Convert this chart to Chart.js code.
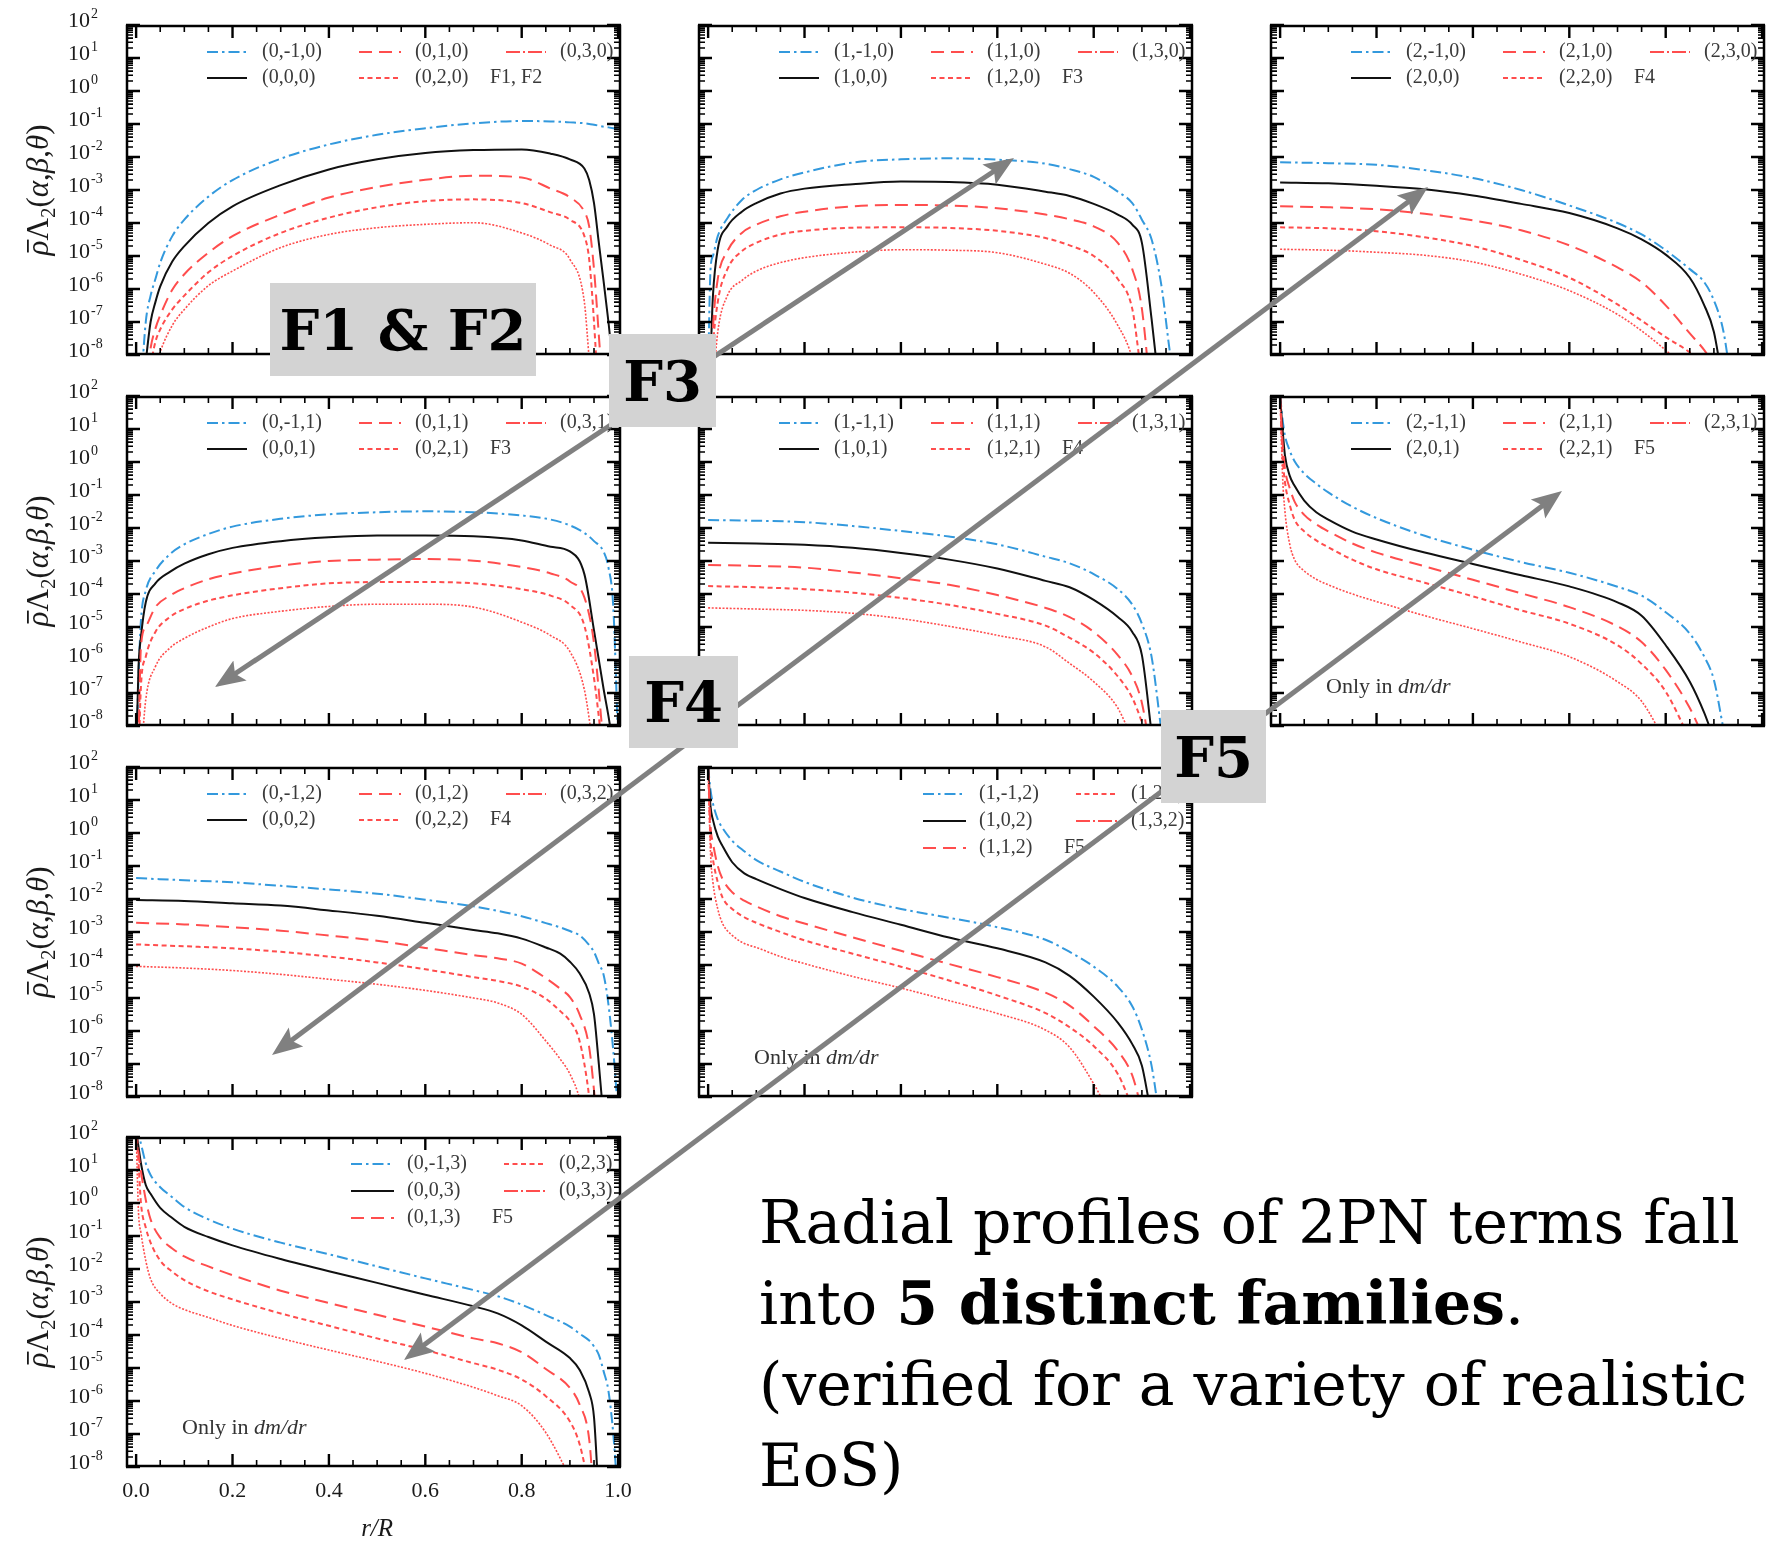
<!DOCTYPE html>
<html>
<head>
<meta charset="utf-8">
<title>Radial profiles of 2PN terms</title>
<script src="https://cdn.jsdelivr.net/npm/chart.js@4.4.1/dist/chart.umd.min.js"></script>
<style>
    html, body { margin: 0; padding: 0; background: #fff; }
    #page { position: relative; width: 1767px; height: 1541px; overflow: hidden; background: #fff; }
    #plots canvas { position: absolute; }
    #arrows { position: absolute; left: 0; top: 0; }
    .tag {
        position: absolute; background: #d3d3d3; color: #000;
        font: bold 56px "DejaVu Serif", Georgia, serif;
        display: flex; align-items: center; justify-content: center; white-space: nowrap;
    }
    #caption {
        position: absolute; left: 759px; top: 1182px;
        font: 60px "DejaVu Serif", Georgia, serif; line-height: 81px; color: #000; white-space: nowrap;
    }
</style>
</head>
<body>
<div id="page">
    <div id="plots"></div>
    <svg id="arrows" width="1767" height="1541" viewBox="0 0 1767 1541">
        <defs>
            <marker id="head" markerUnits="userSpaceOnUse" markerWidth="30" markerHeight="26"
                    refX="15" refY="13" orient="auto-start-reverse">
                <path d="M0,1 L30,13 L0,25 L6,13 z" fill="#808080"></path>
            </marker>
        </defs>
    </svg>
    <div class="tag" style="left:270px;top:283px;width:266px;height:93px;">F1 &amp; F2</div>
    <div class="tag" style="left:609px;top:334px;width:107px;height:93px;">F3</div>
    <div class="tag" style="left:629px;top:656px;width:109px;height:92px;">F4</div>
    <div class="tag" style="left:1161px;top:710px;width:105px;height:93px;">F5</div>
    <div id="caption">Radial profiles of 2PN terms fall<br>into <b>5 distinct families</b>.<br>(verified for a variety of realistic<br>EoS)</div>
</div>

<script>
// ---- data: r/R grids and rho*Lambda_2(alpha,beta,theta) ----
// panel (0,beta,0)  F1, F2
const r00 = [0.01, 0.02, 0.03, 0.04, 0.05, 0.075, 0.1, 0.15, 0.2, 0.3, 0.4, 0.5, 0.6, 0.7, 0.8, 0.86, 0.9, 0.93, 0.94, 0.95, 0.96, 0.97, 0.98, 0.99, 1.0];
const y00_m1 = [1e-9, 1e-7, 6.3e-7, 2e-6, 6.3e-6, 4e-5, 1.26e-4, 6.3e-4, 2e-3, 8.9e-3, 2.4e-2, 4.7e-2, 7.4e-2, 0.105, 0.123, 0.12, 0.112, 0.105, 0.1, 0.095, 0.089, 0.083, 0.079, 0.074, 0.068];
const y00_0 = [3e-10, 6.3e-9, 1e-7, 4e-7, 1.2e-6, 6.8e-6, 2e-5, 1e-4, 3.2e-4, 1.4e-3, 4.2e-3, 8.5e-3, 1.32e-2, 1.62e-2, 1.7e-2, 1.26e-2, 8.5e-3, 4.5e-3, 2e-3, 4e-4, 2.5e-5, 1.66e-6, 1e-7, 4e-9, null];
const y00_1 = [null, 1e-9, 1.6e-8, 6.3e-8, 1.6e-7, 9.5e-7, 2.8e-6, 1.26e-5, 4e-5, 1.8e-4, 5.9e-4, 1.23e-3, 2.04e-3, 2.7e-3, 2.4e-3, 1.1e-3, 6e-4, 2.2e-4, 7.9e-5, 4e-6, 4e-8, 3e-10, null, null, null];
const y00_2 = [null, null, 5e-9, 2.5e-8, 6e-8, 2.4e-7, 6.3e-7, 3.2e-6, 1e-5, 5e-5, 1.45e-4, 3e-4, 4.6e-4, 5.2e-4, 4e-4, 2.1e-4, 1.26e-4, 4e-5, 7.9e-6, 1e-7, 3e-10, null, null, null, null];
const y00_3 = [null, null, null, 4e-9, 1.26e-8, 7.9e-8, 2.4e-7, 1.26e-6, 3.5e-6, 1.8e-5, 4.5e-5, 7.2e-5, 9.1e-5, 1.02e-4, 5e-5, 2.1e-5, 7.9e-6, 4e-7, 7.9e-9, 3e-10, null, null, null, null, null];

// panel (1,beta,0)  F3
const r01 = [0, 0.005, 0.01, 0.02, 0.04, 0.07, 0.1, 0.15, 0.2, 0.3, 0.4, 0.5, 0.6, 0.7, 0.75, 0.8, 0.85, 0.88, 0.9, 0.92, 0.94, 0.96, 0.98];
const y01_m1 = [3.2e-9, 4e-6, 1e-5, 4e-5, 1.4e-4, 5e-4, 1e-3, 2.1e-3, 3.4e-3, 6.8e-3, 8.5e-3, 9.1e-3, 8.3e-3, 6.3e-3, 4.3e-3, 2.5e-3, 8.9e-4, 4e-4, 1.26e-4, 3.2e-5, 1.4e-6, 7.9e-9, 3e-10];
const y01_0 = [1e-9, 1e-8, 6.3e-7, 1.6e-5, 7.9e-5, 2.2e-4, 4e-4, 7.8e-4, 1.1e-3, 1.5e-3, 1.8e-3, 1.74e-3, 1.45e-3, 8.9e-4, 6.6e-4, 3.8e-4, 1.8e-4, 8.9e-5, 2.5e-5, 1.26e-7, 3e-10, null, null];
const y01_1 = [null, 1e-9, 6.3e-8, 2e-6, 1.4e-5, 5e-5, 8.9e-5, 1.6e-4, 2.2e-4, 3.2e-4, 3.5e-4, 3.4e-4, 2.8e-4, 1.8e-4, 1.3e-4, 7.9e-5, 2.5e-5, 4e-6, 2.5e-7, 3e-10, null, null, null];
const y01_2 = [null, 3e-10, 1.6e-8, 4e-7, 4e-6, 1.4e-5, 2.5e-5, 4.5e-5, 5.8e-5, 7.2e-5, 7.4e-5, 7.1e-5, 5.8e-5, 3.5e-5, 2.1e-5, 1e-5, 2e-6, 2.5e-7, 2.5e-9, 3e-10, null, null, null];
const y01_3 = [null, null, 1e-9, 5e-8, 6.3e-7, 1.8e-6, 3.5e-6, 6.3e-6, 8.9e-6, 1.3e-5, 1.55e-5, 1.5e-5, 1.26e-5, 5.6e-6, 3e-6, 7.9e-7, 7.9e-8, 7.9e-9, 3e-10, null, null, null, null];

// panel (2,beta,0)  F4
const r02 = [0, 0.1, 0.2, 0.3, 0.4, 0.5, 0.6, 0.7, 0.75, 0.8, 0.85, 0.88, 0.9, 0.92, 0.94, 0.96];
const y02_m1 = [6.9e-3, 6.5e-3, 5.8e-3, 4e-3, 2.3e-3, 1e-3, 3.4e-4, 1e-4, 4.5e-5, 1.5e-5, 4e-6, 1.6e-6, 4.5e-7, 5e-8, 5e-10, null];
const y02_0 = [1.7e-3, 1.6e-3, 1.35e-3, 1.05e-3, 6.8e-4, 3.8e-4, 2e-4, 6.9e-5, 3.2e-5, 1.1e-5, 2.2e-6, 3.2e-7, 5e-8, 1e-9, null, null];
const y02_1 = [3.2e-4, 3e-4, 2.6e-4, 1.9e-4, 1.2e-4, 6e-5, 2.1e-5, 4.5e-6, 1.6e-6, 3.2e-7, 4.5e-8, 1.4e-8, 5e-9, null, null, null];
const y02_2 = [7.4e-5, 6.9e-5, 5.6e-5, 3.7e-5, 2e-5, 7.6e-6, 2.2e-6, 3.4e-7, 1.1e-7, 3.5e-8, 1.2e-8, 5e-9, null, null, null, null];
const y02_3 = [1.6e-5, 1.5e-5, 1.3e-5, 1.05e-5, 6.6e-6, 2.8e-6, 8.9e-7, 1.7e-7, 5.4e-8, 1.4e-8, 3.2e-9, null, null, null, null, null];

// panel (0,beta,1)  F3
const r10 = [0, 0.005, 0.01, 0.02, 0.04, 0.07, 0.1, 0.15, 0.2, 0.3, 0.4, 0.5, 0.6, 0.7, 0.8, 0.86, 0.9, 0.93, 0.95, 0.97, 0.98, 0.99, 1.0];
const y10_m1 = [1e-9, 3.2e-7, 1.6e-5, 1.26e-4, 5e-4, 1.6e-3, 3.2e-3, 6.6e-3, 1.1e-2, 1.9e-2, 2.6e-2, 3e-2, 3.2e-2, 3e-2, 2.4e-2, 1.8e-2, 1.2e-2, 7.1e-3, 4e-3, 1.9e-3, 6.3e-4, 4e-5, 3.2e-9];
const y10_0 = [1e-9, 6.3e-7, 5e-6, 5.6e-5, 2.1e-4, 4.7e-4, 8.3e-4, 1.6e-3, 2.5e-3, 4e-3, 5.2e-3, 5.9e-3, 5.9e-3, 5.6e-3, 4.2e-3, 2.7e-3, 1.95e-3, 4e-4, 7.9e-6, 1.3e-7, 2e-8, 2.5e-9, null];
const y10_1 = [null, 3.2e-9, 2.5e-6, 1e-5, 4e-5, 8.9e-5, 1.5e-4, 2.8e-4, 4.2e-4, 7.2e-4, 1e-3, 1.1e-3, 1.15e-3, 1.02e-3, 6.6e-4, 4.2e-4, 2.4e-4, 7.9e-5, 3.2e-6, 2.5e-9, null, null, null];
const y10_2 = [null, 1e-9, 1.6e-7, 1.26e-6, 7.1e-6, 2e-5, 3.5e-5, 6.3e-5, 9.1e-5, 1.5e-4, 2.1e-4, 2.3e-4, 2.3e-4, 2.1e-4, 1.4e-4, 8.9e-5, 4.7e-5, 1.1e-5, 2.8e-7, 1e-9, null, null, null];
const y10_3 = [null, null, 1e-9, 6.3e-8, 6.3e-7, 2.3e-6, 4.5e-6, 1e-5, 1.8e-5, 3e-5, 4.2e-5, 4.9e-5, 4.9e-5, 4e-5, 1.4e-5, 5.5e-6, 1.8e-6, 1.26e-7, 1.6e-9, null, null, null, null];

// panel (1,beta,1)  F4
const r11 = [0, 0.1, 0.2, 0.3, 0.4, 0.5, 0.6, 0.7, 0.75, 0.8, 0.85, 0.88, 0.9, 0.92, 0.94];
const y11_m1 = [1.74e-2, 1.66e-2, 1.5e-2, 1.15e-2, 8.1e-3, 5.5e-3, 3.2e-3, 1.35e-3, 8.5e-4, 4e-4, 1.4e-4, 4.8e-5, 1.26e-5, 1.26e-6, 7.9e-9];
const y11_0 = [3.6e-3, 3.4e-3, 3.1e-3, 2.5e-3, 1.74e-3, 1.1e-3, 5.9e-4, 2.5e-4, 1.6e-4, 6.6e-5, 2e-5, 7.1e-6, 1.4e-6, 6.3e-9, null];
const y11_1 = [7.6e-4, 7.1e-4, 6.3e-4, 4.5e-4, 3e-4, 1.9e-4, 9.3e-5, 3.8e-5, 2e-5, 7.1e-6, 1.4e-6, 3.2e-7, 5e-8, 1e-9, null];
const y11_2 = [1.74e-4, 1.6e-4, 1.4e-4, 1.1e-4, 7.6e-5, 4.7e-5, 2.5e-5, 1.1e-5, 4.7e-6, 1.66e-6, 3.2e-7, 7.1e-8, 1.26e-8, 1e-9, null];
const y11_3 = [3.8e-5, 3.5e-5, 3.2e-5, 2.6e-5, 1.8e-5, 1.05e-5, 5.6e-6, 2.5e-6, 7.9e-7, 2.2e-7, 3.5e-8, 4e-9, null, null, null];

// panels (2,beta,1) and (1,beta,2)  F5
const rF5 = [0, 0.005, 0.01, 0.02, 0.03, 0.05, 0.075, 0.1, 0.15, 0.2, 0.3, 0.4, 0.5, 0.6, 0.7, 0.75, 0.8, 0.85, 0.88, 0.9, 0.92, 0.94];
const y12_m1 = [100, 20, 6.3, 2.2, 1.05, 0.45, 0.22, 0.12, 4.4e-2, 2e-2, 5.8e-3, 2.2e-3, 9.3e-4, 4.4e-4, 1.66e-4, 8.9e-5, 2.8e-5, 6.3e-6, 1.26e-6, 2.5e-7, 7.9e-9, 3e-10];
const y12_0 = [100, 10, 1.6, 0.38, 0.19, 6.8e-2, 3e-2, 1.8e-2, 7.8e-3, 4.5e-3, 1.8e-3, 8.1e-4, 3.7e-4, 1.7e-4, 5.6e-5, 2.2e-5, 2.8e-6, 2.2e-7, 2.5e-8, 4e-9, null, null];
const y12_1 = [100, 4, 0.63, 0.16, 6.3e-2, 2.5e-2, 1.3e-2, 7.9e-3, 3.4e-3, 1.8e-3, 6.9e-4, 2.7e-4, 1.05e-4, 4e-5, 1.05e-5, 3.5e-6, 5e-7, 3.5e-8, 4e-9, null, null, null];
const y12_2 = [100, 1.6, 0.25, 5e-2, 1.8e-2, 7.9e-3, 4.2e-3, 2.6e-3, 1.1e-3, 5.6e-4, 2.2e-4, 8.5e-5, 3.2e-5, 1.26e-5, 2.8e-6, 7.6e-7, 1.1e-7, 4e-9, null, null, null, null];
const y12_3 = [100, 0.4, 3.2e-2, 3.2e-3, 1.1e-3, 5e-4, 2.8e-4, 1.9e-4, 1e-4, 5.9e-5, 2.2e-5, 8.9e-6, 3.5e-6, 1.26e-6, 2.2e-7, 5.6e-8, 3.2e-9, null, null, null, null, null];

const y21_m1 = [100, 20, 7.9, 2.6, 1.4, 0.58, 0.28, 0.15, 6.8e-2, 3.3e-2, 1.1e-2, 5e-3, 2.7e-3, 1.4e-3, 5.8e-4, 2.5e-4, 8.9e-5, 2.2e-5, 5.6e-6, 1.1e-6, 8.9e-8, 1e-9];
const y21_0 = [100, 6.3, 2.5, 0.79, 0.4, 0.13, 6e-2, 4e-2, 2e-2, 1.07e-2, 4e-3, 1.66e-3, 6.8e-4, 3.2e-4, 1.2e-4, 4.7e-5, 1.1e-5, 1.8e-6, 4e-7, 8.9e-8, 2.5e-9, null];
const y21_1 = [100, 1.6, 0.5, 0.1, 4e-2, 1.6e-2, 8.9e-3, 6e-3, 3e-3, 1.8e-3, 6.9e-4, 2.7e-4, 1.07e-4, 4.3e-5, 1.45e-5, 5.9e-6, 1.4e-6, 2.5e-7, 4.5e-8, 4e-9, null, null];
const y21_2 = [100, 0.63, 0.16, 3.2e-2, 1.1e-2, 5e-3, 2.8e-3, 1.9e-3, 1e-3, 5.6e-4, 2.2e-4, 8.9e-5, 3.4e-5, 1.2e-5, 3.5e-6, 1.3e-6, 3.5e-7, 5e-8, 5e-9, null, null, null];
const y21_3 = [100, 0.25, 3.2e-2, 5e-3, 1.8e-3, 7.9e-4, 4.5e-4, 3.4e-4, 1.8e-4, 1.1e-4, 4.5e-5, 2e-5, 8.3e-6, 3.4e-6, 1.07e-6, 3.2e-7, 2.5e-8, 1e-9, null, null, null, null];

// panel (0,beta,2)  F4
const r20 = [0, 0.1, 0.2, 0.3, 0.4, 0.5, 0.6, 0.7, 0.75, 0.8, 0.85, 0.88, 0.9, 0.92, 0.94, 0.95, 0.96, 0.97, 0.98, 0.99, 1.0];
const y20_m1 = [4.3e-2, 3.7e-2, 3.2e-2, 2.5e-2, 1.95e-2, 1.45e-2, 9.5e-3, 6e-3, 4.4e-3, 3e-3, 1.86e-3, 1.38e-3, 1.07e-3, 7.9e-4, 4e-4, 2.5e-4, 1.1e-4, 5e-5, 6.3e-6, 2.5e-7, 3.2e-9];
const y20_0 = [9.3e-3, 8.7e-3, 7.4e-3, 6.3e-3, 4.5e-3, 3.1e-3, 1.9e-3, 1.15e-3, 9.1e-4, 6.3e-4, 3.4e-4, 2.2e-4, 1.26e-4, 5.6e-5, 1.4e-5, 3.2e-6, 1e-7, 2e-9, null, null, null];
const y20_1 = [1.9e-3, 1.7e-3, 1.4e-3, 1.1e-3, 7.8e-4, 5.4e-4, 3.3e-4, 2e-4, 1.6e-4, 1.1e-4, 4e-5, 1.9e-5, 1.07e-5, 3.2e-6, 3.2e-7, 1.6e-8, 3e-10, null, null, null, null];
const y20_2 = [4.2e-4, 3.7e-4, 3.2e-4, 2.5e-4, 1.8e-4, 1.2e-4, 7.4e-5, 4.3e-5, 3.3e-5, 2.2e-5, 9.5e-6, 4e-6, 2e-6, 5e-7, 1e-8, 3e-10, null, null, null, null, null];
const y20_3 = [9.1e-5, 8.1e-5, 6.8e-5, 5.2e-5, 3.7e-5, 2.6e-5, 1.7e-5, 1e-5, 7.1e-6, 3.2e-6, 5e-7, 1.4e-7, 5e-8, 8.9e-9, 3e-10, null, null, null, null, null, null];

// panel (0,beta,3)  F5
const r30 = [0, 0.005, 0.01, 0.02, 0.03, 0.05, 0.075, 0.1, 0.15, 0.2, 0.3, 0.4, 0.5, 0.6, 0.7, 0.75, 0.8, 0.85, 0.9, 0.92, 0.94, 0.95, 0.96, 0.97, 0.98, 0.99, 1.0];
const y30_m1 = [200, 126, 63, 16, 7.1, 3, 1.5, 0.76, 0.32, 0.166, 6.3e-2, 2.8e-2, 1.2e-2, 5.2e-3, 2.3e-3, 1.5e-3, 8.3e-4, 4e-4, 1.8e-4, 1.1e-4, 6.8e-5, 4.5e-5, 2.5e-5, 7.9e-6, 2e-6, 1e-7, 1e-9];
const y30_0 = [160, 50, 16, 3.5, 1.9, 0.71, 0.35, 0.19, 9.3e-2, 5.2e-2, 2e-2, 8.5e-3, 3.8e-3, 1.66e-3, 7.4e-4, 4.5e-4, 1.95e-4, 6.3e-5, 2e-5, 8.9e-6, 1.8e-6, 3.2e-7, 1e-9, null, null, null, null];
const y30_1 = [160, 32, 9.1, 1.26, 0.32, 8.9e-2, 4.2e-2, 2.4e-2, 1.2e-2, 6.5e-3, 2.2e-3, 9.3e-4, 4.1e-4, 1.8e-4, 7.9e-5, 5.6e-5, 3e-5, 9.3e-6, 2.5e-6, 7.9e-7, 6.9e-8, 1e-9, null, null, null, null, null];
const y30_2 = [160, 16, 1, 0.18, 6.3e-2, 1.8e-2, 8.3e-3, 4.6e-3, 2.1e-3, 1.2e-3, 4.5e-4, 1.9e-4, 7.9e-5, 3.5e-5, 1.4e-5, 8.9e-6, 4.5e-6, 1.4e-6, 2.4e-7, 5e-8, 2.5e-9, null, null, null, null, null, null];
const y30_3 = [160, 0.5, 0.126, 1.8e-2, 5e-3, 1.8e-3, 8.9e-4, 5.9e-4, 3.4e-4, 1.95e-4, 7.9e-5, 3.5e-5, 1.6e-5, 6.9e-6, 2.6e-6, 1.45e-6, 7.2e-7, 1.1e-7, 5e-9, null, null, null, null, null, null, null, null];

const BETAS = [-1, 0, 1, 2, 3];
const X_TICK_LABELS = ['0.0', '0.2', '0.4', '0.6', '0.8', '1.0'];
const Y_EXPONENTS = [-8, -7, -6, -5, -4, -3, -2, -1, 0, 1, 2];

// ---- layout & styles ----
const X_MIN = -0.021, X_MAX = 1.006, Y_MIN = 1e-8, Y_MAX = 1e2;
const COL_X = [126, 698, 1270];
const ROW_Y = [25, 396, 767, 1137];
const BOX_W = 495, BOX_H = 330;
const SERIF = '"Liberation Serif", "Times New Roman", serif';
const BLUE = '#3399dd', RED = '#ff4d4d', BLACK = '#111111';

// one style per beta: -1, 0, 1, 2, 3
const LINE_STYLES = [
    { color: BLUE, dash: [11, 4, 2.5, 4], width: 2 },
    { color: BLACK, dash: [], width: 2 },
    { color: RED, dash: [13, 7], width: 2 },
    { color: RED, dash: [5, 3.5], width: 2 },
    { color: RED, dash: [2, 1.6], width: 1.6 }
];
const LEGEND_DASH = [[11, 4, 2.5, 4], [], [13, 7], [5, 3.5], [14, 3, 2, 3]];

const LEGEND_WIDE = {
    slots: [[0, 0], [0, 1], [1, 0], [1, 1], [2, 0]],
    sample: [[81, 121], [233, 275], [380, 420]],
    text: [136, 289, 434],
    rows: [27, 53],
    familyX: 364, familyRow: 1
};
const LEGEND_TALL = {
    slots: [[0, 0], [0, 1], [0, 2], [1, 0], [1, 1]],
    sample: [[225, 268], [378, 420]],
    text: [281, 433],
    rows: [27, 54, 81],
    familyX: 366, familyRow: 2
};

const PANELS = [
    { row: 0, col: 0, a: 0, t: 0, r: r00, ys: [y00_m1, y00_0, y00_1, y00_2, y00_3], family: 'F1, F2', legend: LEGEND_WIDE },
    { row: 0, col: 1, a: 1, t: 0, r: r01, ys: [y01_m1, y01_0, y01_1, y01_2, y01_3], family: 'F3', legend: LEGEND_WIDE },
    { row: 0, col: 2, a: 2, t: 0, r: r02, ys: [y02_m1, y02_0, y02_1, y02_2, y02_3], family: 'F4', legend: LEGEND_WIDE },
    { row: 1, col: 0, a: 0, t: 1, r: r10, ys: [y10_m1, y10_0, y10_1, y10_2, y10_3], family: 'F3', legend: LEGEND_WIDE },
    { row: 1, col: 1, a: 1, t: 1, r: r11, ys: [y11_m1, y11_0, y11_1, y11_2, y11_3], family: 'F4', legend: LEGEND_WIDE },
    { row: 1, col: 2, a: 2, t: 1, r: rF5, ys: [y12_m1, y12_0, y12_1, y12_2, y12_3], family: 'F5', legend: LEGEND_WIDE, note: true },
    { row: 2, col: 0, a: 0, t: 2, r: r20, ys: [y20_m1, y20_0, y20_1, y20_2, y20_3], family: 'F4', legend: LEGEND_WIDE },
    { row: 2, col: 1, a: 1, t: 2, r: rF5, ys: [y21_m1, y21_0, y21_1, y21_2, y21_3], family: 'F5', legend: LEGEND_TALL, note: true },
    { row: 3, col: 0, a: 0, t: 3, r: r30, ys: [y30_m1, y30_0, y30_1, y30_2, y30_3], family: 'F5', legend: LEGEND_TALL, note: true, xLabels: true }
];

// arrow tips: x1, y1, x2, y2
const ARROWS = [[215, 687, 1014, 158], [272, 1055, 1428, 187], [404, 1360, 1562, 491]];

// draws the frame, inward ticks, legend and labels of one panel
const panelDecor = {
    id: 'panelDecor',
    afterDatasetsDraw(chart, args, p) {
        const { ctx, chartArea: a } = chart;
        const xs = chart.scales.x, ys = chart.scales.y;
        ctx.save();
        ctx.setLineDash([]);
        ctx.strokeStyle = '#000';

        const tick = (lw, pairs) => {
            ctx.lineWidth = lw;
            ctx.beginPath();
            pairs.forEach(([x1, y1, x2, y2]) => { ctx.moveTo(x1, y1); ctx.lineTo(x2, y2); });
            ctx.stroke();
        };
        const majX = [], minX = [];
        for (let k = 0; k <= 20; k++) {
            const px = xs.getPixelForValue(k * 0.05);
            const major = k % 4 === 0;
            const len = major ? 13 : 7;
            (major ? majX : minX).push([px, a.bottom, px, a.bottom - len], [px, a.top, px, a.top + len]);
        }
        const majY = [], minY = [];
        Y_EXPONENTS.forEach(e => {
            for (let m = 1; m <= 9; m++) {
                const v = m * Math.pow(10, e);
                if (v > Y_MAX * 1.001) break;
                const py = ys.getPixelForValue(v);
                const len = m === 1 ? 14 : 7;
                (m === 1 ? majY : minY).push([a.left, py, a.left + len, py], [a.right, py, a.right - len, py]);
            }
        });
        tick(2.4, majX.concat(majY));
        tick(1.6, minX.concat(minY));

        ctx.lineWidth = 2.5;
        ctx.strokeRect(a.left + 1, a.top + 1, a.right - a.left - 2, a.bottom - a.top - 2);

        // legend
        const L = p.legend;
        ctx.font = '20px ' + SERIF;
        ctx.fillStyle = '#3a3a3a';
        ctx.textBaseline = 'middle';
        ctx.textAlign = 'left';
        BETAS.forEach((b, i) => {
            const [c, rr] = L.slots[i];
            const yy = a.top + L.rows[rr];
            const st = LINE_STYLES[i];
            ctx.strokeStyle = st.color;
            ctx.lineWidth = 2;
            ctx.setLineDash(LEGEND_DASH[i]);
            ctx.beginPath();
            ctx.moveTo(a.left + L.sample[c][0], yy);
            ctx.lineTo(a.left + L.sample[c][1], yy);
            ctx.stroke();
            ctx.setLineDash([]);
            ctx.fillText('(' + p.a + ',' + b + ',' + p.t + ')', a.left + L.text[c], yy);
        });
        ctx.fillText(p.family, a.left + L.familyX, a.top + L.rows[L.familyRow]);

        // "Only in dm/dr"
        if (p.note) {
            ctx.textBaseline = 'alphabetic';
            ctx.fillStyle = '#333';
            ctx.font = '22px ' + SERIF;
            const lead = 'Only in ';
            ctx.fillText(lead, a.left + 56, a.top + 297);
            const w = ctx.measureText(lead).width;
            ctx.font = 'italic 22px ' + SERIF;
            ctx.fillText('dm/dr', a.left + 56 + w, a.top + 297);
        }

        ctx.fillStyle = '#1a1a1a';
        // y tick labels and axis title (first column)
        if (p.col === 0) {
            ctx.textBaseline = 'alphabetic';
            Y_EXPONENTS.forEach(e => {
                const py = ys.getPixelForValue(Math.pow(10, e));
                const x0 = a.left - 58;
                ctx.font = '22px ' + SERIF;
                ctx.fillText('10', x0, py + 2);
                const w = ctx.measureText('10').width;
                ctx.font = '14px ' + SERIF;
                ctx.fillText(String(e), x0 + w + 1, py - 7);
            });
            ctx.save();
            ctx.translate(a.left - 88, (a.top + a.bottom) / 2);
            ctx.rotate(-Math.PI / 2);
            const parts = [
                ['italic 31px ' + SERIF, '\u03C1', 0],
                ['31px ' + SERIF, '\u039B', 0],
                ['21px ' + SERIF, '2', 7],
                ['31px ' + SERIF, '(', 0],
                ['italic 31px ' + SERIF, '\u03B1', 0],
                ['31px ' + SERIF, ',', 0],
                ['italic 31px ' + SERIF, '\u03B2', 0],
                ['31px ' + SERIF, ',', 0],
                ['italic 31px ' + SERIF, '\u03B8', 0],
                ['31px ' + SERIF, ')', 0]
            ];
            let total = 0;
            parts.forEach(([f, s]) => { ctx.font = f; total += ctx.measureText(s).width; });
            let cx = -total / 2;
            parts.forEach(([f, s, dy], i) => {
                ctx.font = f;
                ctx.fillText(s, cx, 10 + dy);
                const w = ctx.measureText(s).width;
                if (i === 0) {
                    // bar over rho
                    ctx.fillRect(cx + 3, -11, w - 2, 1.8);
                }
                cx += w;
            });
            ctx.restore();
        }

        // x tick labels and axis title (bottom panel)
        if (p.xLabels) {
            ctx.textAlign = 'center';
            ctx.textBaseline = 'alphabetic';
            ctx.font = '22px ' + SERIF;
            X_TICK_LABELS.forEach(lbl => {
                ctx.fillText(lbl, xs.getPixelForValue(parseFloat(lbl)), a.bottom + 30);
            });
            ctx.font = 'italic 25px ' + SERIF;
            ctx.fillText('r/R', xs.getPixelForValue(0.5), a.bottom + 69);
        }
        ctx.restore();
    }
};

const plots = document.getElementById('plots');

PANELS.forEach(p => {
    const pad = {
        left: p.col === 0 ? 122 : 6,
        right: p.xLabels ? 30 : 6,
        top: p.col === 0 ? 24 : 6,
        bottom: p.xLabels ? 82 : 6
    };
    const canvas = document.createElement('canvas');
    canvas.width = BOX_W + pad.left + pad.right;
    canvas.height = BOX_H + pad.top + pad.bottom;
    canvas.style.left = (COL_X[p.col] - pad.left) + 'px';
    canvas.style.top = (ROW_Y[p.row] - pad.top) + 'px';
    plots.appendChild(canvas);

    const datasets = p.ys.map((vals, i) => ({
        label: '(' + p.a + ',' + BETAS[i] + ',' + p.t + ')',
        data: p.r.map((x, k) => ({ x: x, y: vals[k] })),
        borderColor: LINE_STYLES[i].color,
        borderDash: LINE_STYLES[i].dash,
        borderWidth: LINE_STYLES[i].width,
        pointRadius: 0,
        fill: false,
        spanGaps: false,
        cubicInterpolationMode: 'monotone'
    })).reverse();

    new Chart(canvas, {
        type: 'line',
        data: { datasets },
        options: {
            responsive: false,
            animation: false,
            devicePixelRatio: 1,
            events: [],
            layout: { padding: pad },
            plugins: {
                legend: { display: false },
                tooltip: { enabled: false },
                panelDecor: p
            },
            scales: {
                x: { type: 'linear', min: X_MIN, max: X_MAX, display: false },
                y: { type: 'logarithmic', min: Y_MIN, max: Y_MAX, display: false }
            }
        },
        plugins: [panelDecor]
    });
});

// connecting arrows between the families
const svg = document.getElementById('arrows');
ARROWS.forEach(([x1, y1, x2, y2]) => {
    const len = Math.hypot(x2 - x1, y2 - y1);
    const ux = (x2 - x1) / len, uy = (y2 - y1) / len;
    const back = 15;
    const line = document.createElementNS('http://www.w3.org/2000/svg', 'line');
    line.setAttribute('x1', x1 + ux * back);
    line.setAttribute('y1', y1 + uy * back);
    line.setAttribute('x2', x2 - ux * back);
    line.setAttribute('y2', y2 - uy * back);
    line.setAttribute('stroke', '#808080');
    line.setAttribute('stroke-width', '5');
    line.setAttribute('marker-start', 'url(#head)');
    line.setAttribute('marker-end', 'url(#head)');
    svg.appendChild(line);
});
</script>
</body>
</html>
